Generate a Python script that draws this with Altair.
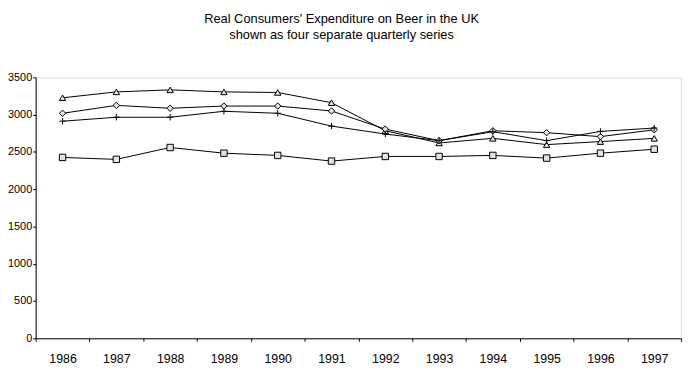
import altair as alt
import pandas as pd

years = ["1986", "1987", "1988", "1989", "1990", "1991",
         "1992", "1993", "1994", "1995", "1996", "1997"]
series_names = ["Q1", "Q2", "Q3", "Q4"]
q1 = [3226, 3305, 3332, 3305, 3297, 3160, 2784, 2620, 2682, 2598, 2638, 2682]  # triangles
q2 = [3018, 3124, 3085, 3115, 3115, 3049, 2806, 2651, 2784, 2758, 2705, 2797]  # diamonds
q3 = [2912, 2965, 2965, 3045, 3018, 2846, 2740, 2651, 2771, 2651, 2775, 2820]  # plus
q4 = [2426, 2400, 2559, 2483, 2453, 2377, 2439, 2439, 2453, 2417, 2483, 2536]  # squares
y_ticks = [0, 500, 1000, 1500, 2000, 2500, 3000, 3500]
title_lines = ["Real Consumers' Expenditure on Beer in the UK",
               "shown as four separate quarterly series"]

rows = []
for name, vals in zip(series_names, [q1, q2, q3, q4]):
    for yr, v in zip(years, vals):
        rows.append({"year": yr, "value": v, "series": name})
df = pd.DataFrame(rows)

FONT = "Liberation Sans"
BG = "#e3e3e3"

x_enc = alt.X("year:O", sort=years, bandPosition=0.5,
              scale=alt.Scale(type="band", paddingInner=0, paddingOuter=0),
              axis=alt.Axis(title=None, labelAngle=0, tickBand="extent", tickSize=3,
                            labelPadding=11, labelFont=FONT, labelFontSize=12.5,
                            labelColor="black", domainColor="black", tickColor="black",
                            grid=False))
y_enc = alt.Y("value:Q", scale=alt.Scale(domain=[0, 3500], nice=False),
              axis=alt.Axis(title=None, values=y_ticks, format="d", grid=False, tickSize=3,
                            labelPadding=1, labelFont=FONT, labelFontSize=11,
                            labelColor="black", domainColor="black", tickColor="black"))

line = alt.Chart(df).mark_line(color="black", strokeWidth=1).encode(
    x=x_enc, y=y_enc, detail="series:N")

plus_path = "M-1,0L1,0M0,-1L0,1"
points = alt.Chart(df).mark_point(fill=BG, stroke="black", strokeWidth=1,
                                  opacity=1, fillOpacity=1, size=42).encode(
    x=x_enc, y=y_enc,
    shape=alt.Shape("series:N",
                    scale=alt.Scale(domain=series_names,
                                    range=["triangle-up", "diamond", plus_path, "square"]),
                    legend=None))

chart = alt.layer(line, points).properties(
    width=653, height=264,
    title=alt.TitleParams(text=title_lines, fontSize=13, font=FONT, fontWeight="normal",
                          color="black", lineHeight=16, offset=30, dx=-17, anchor="middle"),
    padding={"left": 28, "top": 68, "right": 9, "bottom": 38},
    autosize="none",
).configure_view(fill=BG, stroke=None).configure(background="white")

chart.save("out.html", embed_options={"renderer": "svg", "actions": False})
